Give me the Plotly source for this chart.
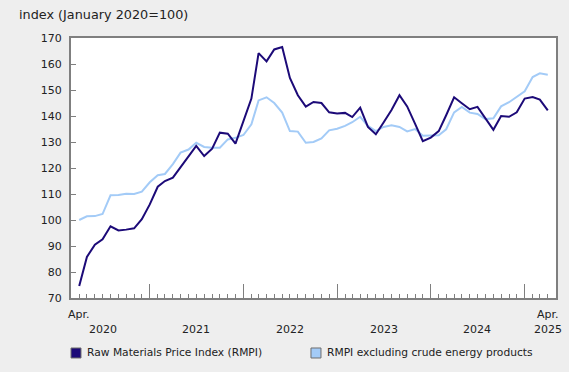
import plotly.graph_objects as go
import pandas as pd

months = pd.date_range("2020-04-01", "2025-04-01", freq="MS")

rmpi = [74.6, 85.8, 90.5, 92.6, 97.6, 96.0, 96.3, 96.8, 100.3,
        106.0, 112.8, 115.0, 116.3, 120.4, 124.6, 128.5, 124.6, 127.4, 133.6, 133.2, 129.4,
        138.1, 146.7, 164.2, 161.0, 165.6, 166.5, 154.6, 148.0, 143.6, 145.4, 145.0, 141.4,
        141.0, 141.2, 139.6, 143.2, 135.8, 133.0, 137.5, 142.3, 148.0, 143.7, 137.0, 130.3,
        131.7, 134.2, 140.3, 147.2, 144.9, 142.6, 143.5, 139.0, 134.7, 140.0, 139.7, 141.4,
        146.7, 147.3, 146.3, 142.2]

rmpi_ex = [100.0, 101.4, 101.5, 102.3, 109.5, 109.6, 110.1, 110.0, 110.9,
           114.5, 117.2, 117.7, 121.5, 125.9, 127.1, 129.7, 128.1, 127.8, 127.8, 131.0, 131.6,
           132.7, 136.8, 146.0, 147.2, 145.0, 141.3, 134.2, 134.0, 129.7, 130.0, 131.4, 134.5,
           135.1, 136.2, 137.6, 139.7, 136.2, 134.2, 135.8, 136.4, 135.8, 134.1, 135.0, 132.4,
           132.6, 132.6, 134.9, 141.4, 143.5, 141.3, 140.8, 138.8, 139.1, 143.7, 145.3, 147.3,
           149.5, 155.0, 156.4, 155.9]

series_names = ["Raw Materials Price Index (RMPI)", "RMPI excluding crude energy products"]
series_colors = ["#1c0a78", "#a3cbf7"]

y_ticks = list(range(70, 171, 10))
year_labels = ["2020", "2021", "2022", "2023", "2024"]
year_label_dates = ["2020-07-01", "2021-07-01", "2022-07-01", "2023-07-01", "2024-07-01"]
title_text = "index (January 2020=100)"

FONT = "DejaVu Sans, Verdana, sans-serif"
TXT = "#222222"
AXC = "#7f7f7f"

fig = go.Figure()
fig.add_trace(go.Scatter(x=months, y=rmpi_ex, mode="lines", name=series_names[1],
                         line=dict(color=series_colors[1], width=2), showlegend=False))
fig.add_trace(go.Scatter(x=months, y=rmpi, mode="lines", name=series_names[0],
                         line=dict(color=series_colors[0], width=2), showlegend=False))

fig.update_layout(
    width=569, height=372,
    margin=dict(l=71, r=13, t=38, b=74),
    paper_bgcolor="#eeeeee", plot_bgcolor="#ffffff",
    font=dict(family=FONT, size=11, color=TXT),
)

fig.update_xaxes(
    type="date",
    range=["2020-02-29", "2025-05-03"],
    showgrid=False, zeroline=False,
    showline=True, mirror=True, linecolor=AXC, linewidth=2,
    ticks="inside", ticklen=14, tickcolor=AXC, tickwidth=1,
    dtick="M12", tick0="2021-01-01",
    showticklabels=False,
    minor=dict(ticks="inside", ticklen=4, tickcolor=AXC, tickwidth=1,
               dtick="M1", tick0="2020-01-01", showgrid=False),
)
fig.update_yaxes(
    range=[70, 170],
    tickvals=y_ticks,
    showgrid=False, zeroline=False,
    showline=True, mirror=True, linecolor=AXC, linewidth=2,
    ticks="inside", ticklen=5, tickcolor=AXC, tickwidth=1,
    ticklabelstandoff=5,
    tickfont=dict(family=FONT, size=11, color=TXT),
)

ann = []
ann.append(dict(text=title_text, xref="paper", yref="paper", x=-0.1113, y=1.0885,
                xanchor="left", yanchor="middle", showarrow=False,
                font=dict(family=FONT, size=12.8, color=TXT)))
# x labels
ann.append(dict(text="Apr.", xref="x", yref="paper", x=months[0], y=0, yshift=-16,
                xanchor="center", yanchor="middle", showarrow=False))
ann.append(dict(text="Apr.", xref="x", yref="paper", x=months[-1], y=0, yshift=-16,
                xanchor="center", yanchor="middle", showarrow=False))
for lab, d in zip(year_labels, year_label_dates):
    ann.append(dict(text=lab, xref="x", yref="paper", x=d, y=0, yshift=-31,
                    xanchor="center", yanchor="middle", showarrow=False))
ann.append(dict(text="2025", xref="x", yref="paper", x=months[-1], y=0, yshift=-31,
                xanchor="center", yanchor="middle", showarrow=False))

# manual legend
leg_x = [0.0, 0.4948]
leg_tx = [0.0289, 0.5237]
leg_y = -0.2115
shapes = []
for i, (name, col) in enumerate(zip(series_names, series_colors)):
    shapes.append(dict(type="rect", xref="paper", yref="paper",
                       xsizemode="pixel", ysizemode="pixel",
                       xanchor=leg_x[i], yanchor=leg_y,
                       x0=0, x1=10, y0=-5, y1=5,
                       fillcolor=col, line=dict(color="#6e6e6e", width=1)))
    ann.append(dict(text=name, xref="paper", yref="paper", x=leg_tx[i], y=leg_y,
                    xanchor="left", yanchor="middle", showarrow=False,
                    font=dict(family=FONT, size=10.7, color=TXT)))

fig.update_layout(annotations=ann, shapes=shapes)

fig.write_html(
    "out.html",
    config={"displayModeBar": False, "staticPlot": True},
    post_script="document.body.style.margin='0';document.body.style.padding='0';"
                "document.body.style.background='#eeeeee';document.body.style.overflow='hidden';",
)
